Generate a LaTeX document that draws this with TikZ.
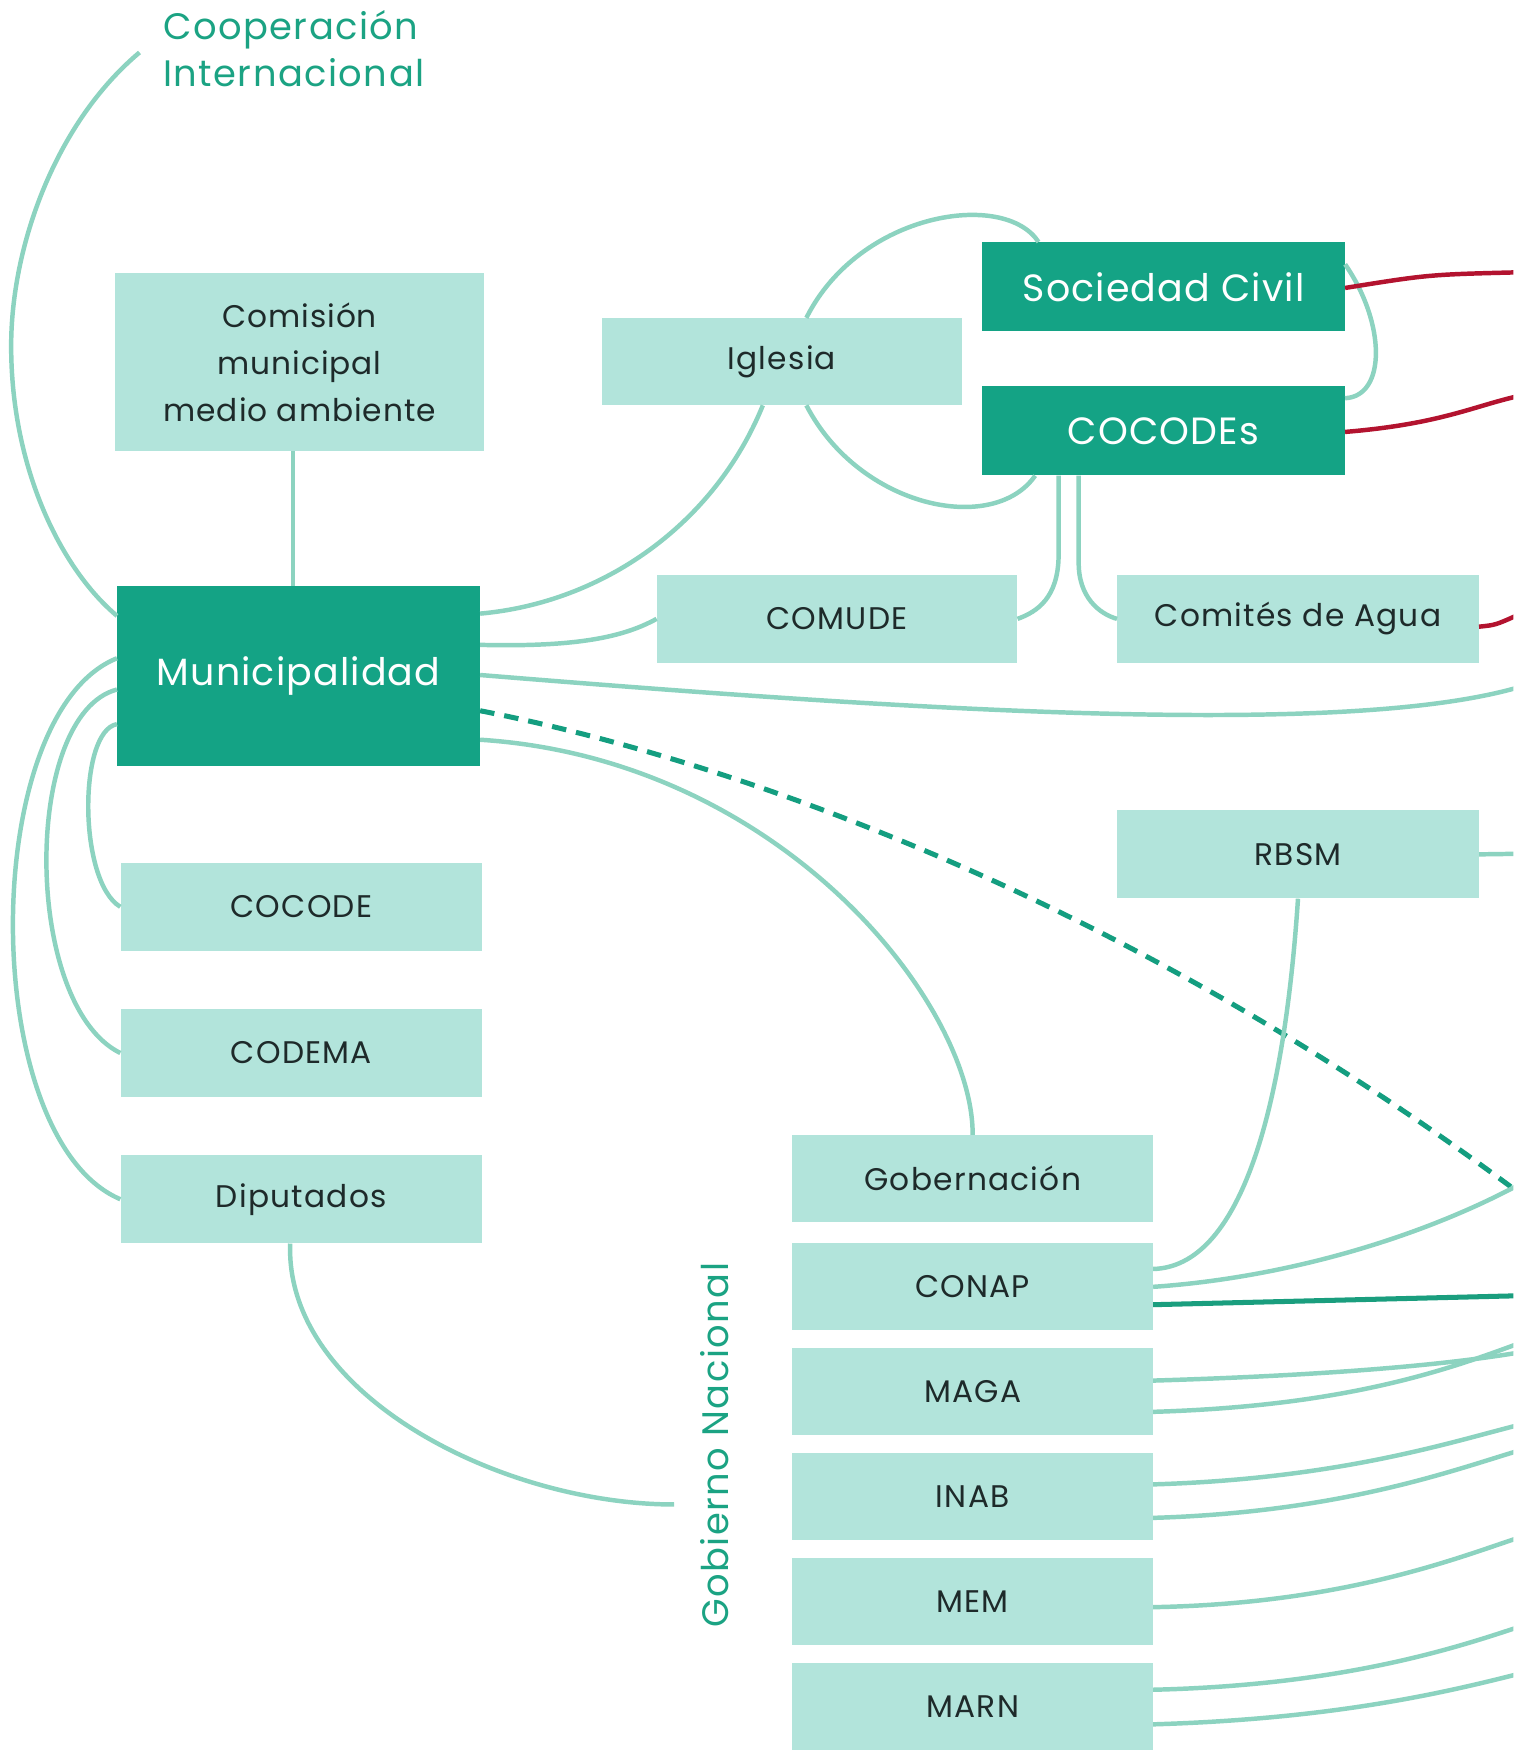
\documentclass[tikz,border=0pt]{standalone}
\usepackage{fontspec}
\setmainfont{Poppins}
\usetikzlibrary{calc}
\definecolor{darkbox}{HTML}{14A385}
\definecolor{lightbox}{HTML}{B2E4DB}
\definecolor{linec}{HTML}{8CD3C0}
\definecolor{dashc}{HTML}{149E80}
\definecolor{conapc}{HTML}{1A9E7E}
\definecolor{redc}{HTML}{B3132F}
\definecolor{txt}{HTML}{1E2A2A}
\definecolor{labelc}{HTML}{1BA383}
\tikzset{
  lbox/.style={fill=lightbox, inner sep=0pt, minimum width=324pt, minimum height=79pt,
    text=txt, font=\fontsize{28}{34}\selectfont\addfontfeatures{LetterSpace=4}},
  dbox/.style={fill=darkbox, inner sep=0pt, minimum width=325pt, minimum height=80pt,
    text=white, font=\fontsize{34}{40}\selectfont\addfontfeatures{LetterSpace=3}},
  conn/.style={draw=linec, line width=4pt},
  redconn/.style={draw=redc, line width=4pt},
  dashconn/.style={draw=dashc, line width=4.5pt, dash pattern=on 13pt off 9pt},
  strongconn/.style={draw=conapc, line width=4.5pt},
  grouplabel/.style={text=labelc, font=\fontsize{33}{42}\selectfont\addfontfeatures{LetterSpace=4}, inner sep=0pt}
}
\begin{document}
\begin{tikzpicture}[x=1pt,y=-1pt]
\useasboundingbox (0,0) rectangle (1356,1568);
\clip (0,0) rectangle (1356,1568);
\fill[white] (0,0) rectangle (1356,1568);

% nodes
\node[grouplabel, anchor=north west, align=left] (coop) at (146,9) {Cooperación\\Internacional};
\node[lbox, minimum width=331pt, minimum height=159pt, align=center,
      font=\fontsize{28}{42}\selectfont\addfontfeatures{LetterSpace=3}] (comision) at (268.5,324.5) {Comisión\\municipal\\medio ambiente};
\node[lbox, minimum width=323pt, minimum height=78pt] (iglesia) at (700.5,324) {Iglesia};
\node[dbox] (soc) at (1042.5,257) {Sociedad Civil};
\node[dbox] (cocodes) at (1042.5,386) {COCODEs};
\node[dbox, minimum height=161pt] (muni) at (267.5,605.5) {Municipalidad};
\node[lbox, minimum width=323pt] (comude) at (750,554.5) {COMUDE};
\node[lbox] (agua) at (1163,554.5) {Comités de Agua};
\node[lbox] (rbsm) at (1163,765.5) {RBSM};
\node[lbox] (cocode) at (270,812.5) {COCODE};
\node[lbox] (codema) at (270,943.5) {CODEMA};
\node[lbox] (diput) at (270,1074.5) {Diputados};
\node[lbox, minimum width=323pt, minimum height=78pt] (gob) at (871.5,1056) {Gobernación};
\node[lbox, minimum width=323pt, minimum height=78pt] (conap) at (871.5,1153) {CONAP};
\node[lbox, minimum width=323pt, minimum height=78pt] (maga) at (871.5,1247) {MAGA};
\node[lbox, minimum width=323pt, minimum height=78pt] (inab) at (871.5,1341) {INAB};
\node[lbox, minimum width=323pt, minimum height=78pt] (mem) at (871.5,1435) {MEM};
\node[lbox, minimum width=323pt, minimum height=78pt] (marn) at (871.5,1529) {MARN};
\node[grouplabel, rotate=90] (gobnac) at (640,1295) {Gobierno Nacional};

% free ends
\coordinate (coopend) at (125,47);
\coordinate (gobnacend) at (604,1348);
\coordinate (comisionbot) at ([xshift=-6pt]comision.south);
\coordinate (rSoc) at (1360,244);
\coordinate (rCocodes) at (1360,355);
\coordinate (rAgua) at (1360,551);
\coordinate (rMuni) at (1360,616);
\coordinate (rRbsm) at (1360,765);
\coordinate (rDash) at (1360,1068);
\coordinate (rConapA) at (1360,1062);
\coordinate (rConapB) at (1360,1161);
\coordinate (rMagaA) at (1360,1212);
\coordinate (rMagaB) at (1360,1204);
\coordinate (rInabA) at (1360,1277);
\coordinate (rInabB) at (1360,1300);
\coordinate (rMem) at (1360,1378);
\coordinate (rMarnA) at (1360,1458);
\coordinate (rMarnB) at (1360,1500);

% connectors
\draw[conn] (coopend) .. controls (50,110) and (10,220) .. (10,310)
  .. controls (10,420) and (55,510) .. ([yshift=-27pt]muni.north west);
\draw[conn] (comisionbot) -- (comisionbot |- muni.north);
\draw[conn] ([yshift=-25pt]muni.north east) .. controls (540,540) and (640,470) .. ([xshift=-17pt]iglesia.south);
\draw[conn] ([xshift=22pt]iglesia.north) .. controls (770,190) and (900,170) .. ([xshift=-112pt]soc.north);
\draw[conn] ([xshift=22pt]iglesia.south) .. controls (770,455) and (890,480) .. ([xshift=-115pt]cocodes.south);
\draw[conn] ([yshift=-20pt]soc.north east) .. controls (1242,290) and (1242,355) .. ([yshift=-11pt]cocodes.north east);
\draw[redconn] ([yshift=-1pt]soc.east) .. controls (1280,246) .. (rSoc);
\draw[redconn] ([yshift=-1pt]cocodes.east) .. controls (1290,380) and (1320,364) .. (rCocodes);
\draw[redconn] ([yshift=-7pt]agua.east) .. controls (1340,560) .. (rAgua);
\draw[conn] ([xshift=-94pt]cocodes.south) -- ++(0,72) .. controls (948,535) and (930,548) .. (comude.east);
\draw[conn] ([xshift=-76pt]cocodes.south) -- ++(0,77) .. controls (966,535) and (985,550) .. (agua.west);
\draw[conn] ([yshift=-53pt]muni.north east) .. controls (520,580) and (560,570) .. (comude.west);
\draw[conn] ([yshift=-80pt]muni.north east) .. controls (800,635) and (1200,662) .. (rMuni);
\draw[dashconn] ([yshift=-112pt]muni.north east) .. controls (650,680) and (1000,800) .. (rDash);
\draw[conn] ([yshift=-138pt]muni.north east) .. controls (700,680) and (872,900) .. (gob.north);
\draw[conn] ([yshift=-124pt]muni.north west) .. controls (70,655) and (70,790) .. (cocode.west);
\draw[conn] ([yshift=-93pt]muni.north west) .. controls (20,640) and (20,900) .. (codema.west);
\draw[conn] ([yshift=-65pt]muni.north west) .. controls (-20,640) and (-20,1020) .. (diput.west);
\draw[conn] ([xshift=-10pt]diput.south) .. controls (255,1250) and (450,1348) .. (gobnacend);
\draw[conn] (rbsm.east) -- (rRbsm);
\draw[conn] (rbsm.south) .. controls (1150,1000) and (1110,1135) .. ([yshift=16pt]conap.east);
\draw[conn] (conap.east) .. controls (1150,1145) and (1270,1110) .. (rConapA);
\draw[strongconn] ([yshift=-16pt]conap.east) -- (rConapB);
\draw[conn] ([yshift=10pt]maga.east) .. controls (1200,1232) and (1300,1222) .. (rMagaA);
\draw[conn] ([yshift=-18pt]maga.east) .. controls (1200,1260) and (1290,1230) .. (rMagaB);
\draw[conn] ([yshift=11pt]inab.east) .. controls (1200,1325) and (1300,1292) .. (rInabA);
\draw[conn] ([yshift=-19pt]inab.east) .. controls (1200,1355) and (1300,1318) .. (rInabB);
\draw[conn] ([yshift=-5pt]mem.east) .. controls (1200,1437) and (1300,1398) .. (rMem);
\draw[conn] ([yshift=15pt]marn.east) .. controls (1200,1510) and (1300,1478) .. (rMarnA);
\draw[conn] ([yshift=-16pt]marn.east) .. controls (1200,1540) and (1300,1515) .. (rMarnB);
\end{tikzpicture}
\end{document}
